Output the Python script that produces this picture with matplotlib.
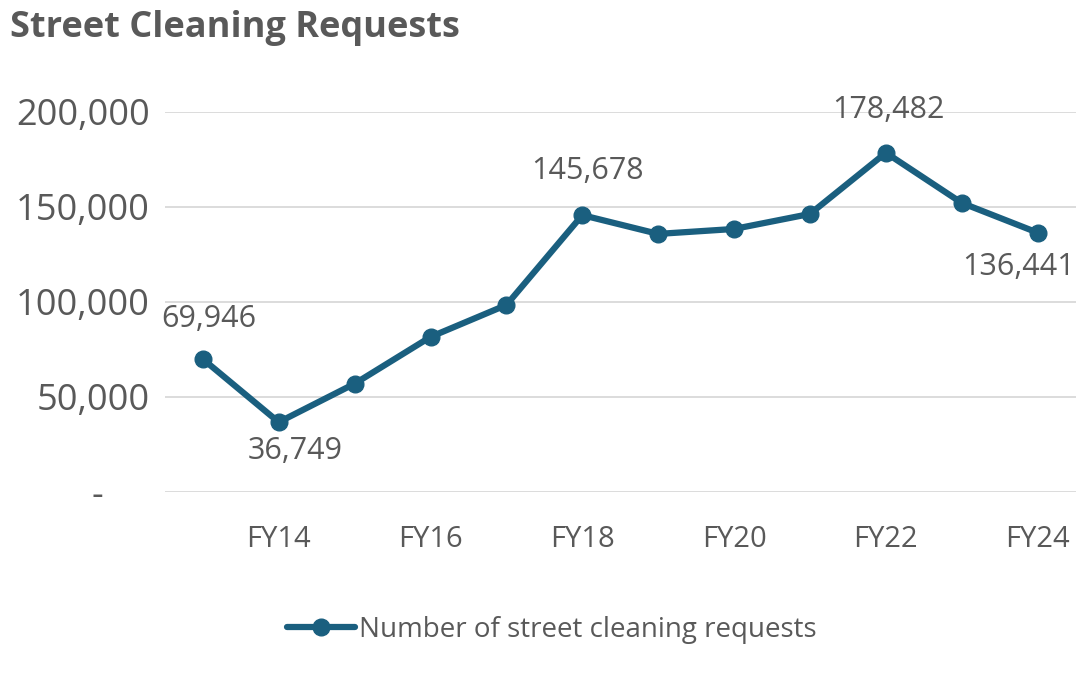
import matplotlib.pyplot as plt
import matplotlib.transforms as mtransforms
from matplotlib.ticker import FuncFormatter

years = ['FY13', 'FY14', 'FY15', 'FY16', 'FY17', 'FY18',
         'FY19', 'FY20', 'FY21', 'FY22', 'FY23', 'FY24']
requests = [69946, 36749, 57000, 81600, 98400, 145678,
            135800, 138400, 146300, 178482, 152100, 136441]
# which points carry a value label, and where (x, y offset in points)
labelled = {0: (4, 29), 1: (12, -21), 5: (4, 32), 9: (2, 31), 11: (-14, -25)}

grey = '#595959'
blue = '#1a5f7f'
plt.rcParams['font.family'] = ['Open Sans', 'DejaVu Sans']

fig = plt.figure(figsize=(10.92, 6.74), dpi=100)
ax = fig.add_axes([0.151, 0.270, 0.834, 0.564])

x = list(range(len(years)))
ax.plot(x, requests, color=blue, linewidth=4.5, marker='o', markersize=12,
        label='Number of street cleaning requests', solid_capstyle='round')

for i, (dx, dy) in labelled.items():
    ax.annotate(f'{requests[i]:,}', (x[i], requests[i]), xytext=(dx, dy),
                textcoords='offset points', ha='center', va='center',
                fontsize=22, color=grey)

ax.set_xlim(-0.5, len(years) - 0.5)
ax.set_ylim(0, 200000)
ax.set_yticks([0, 50000, 100000, 150000, 200000])
ax.yaxis.set_major_formatter(FuncFormatter(lambda v, p: '-' if v == 0 else f'{int(v):,}'))
ax.set_xticks(x[1::2])
ax.set_xticklabels(years[1::2])
ax.tick_params(axis='y', length=0, pad=11, labelsize=26, labelcolor=grey)
ax.tick_params(axis='x', length=0, pad=24, labelsize=21, labelcolor=grey)
ax.grid(axis='y', color='#d9d9d9', linewidth=1.3)
ax.set_axisbelow(True)
for s in ax.spines.values():
    s.set_visible(False)

# accounting style zero: the dash sits further left
fig.canvas.draw()
zero_lbl = ax.get_yticklabels()[0]
zero_lbl.set_transform(zero_lbl.get_transform() +
                       mtransforms.ScaledTranslation(-0.46, 0, fig.dpi_scale_trans))

fig.text(0.009, 0.958, 'Street Cleaning Requests', fontsize=26, fontweight='bold',
         color=grey, va='center', ha='left')

fig.legend(loc='center', bbox_to_anchor=(0.505, 0.065), frameon=False,
           fontsize=20, labelcolor=grey, handlelength=2.45, handletextpad=0.15)

fig.savefig('out.png', dpi=100)
